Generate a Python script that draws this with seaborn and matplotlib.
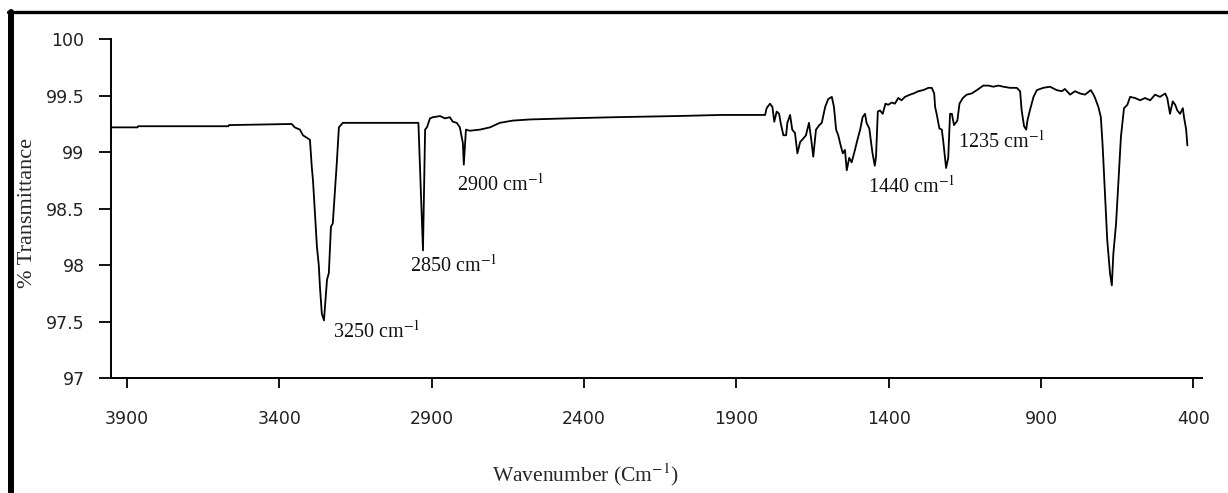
import pandas as pd
import seaborn as sns
import matplotlib.pyplot as plt
from matplotlib.lines import Line2D
from matplotlib.ticker import FuncFormatter

# values
wavenumber = [3953, 3866, 3864, 3568, 3566, 3360, 3350, 3333, 3323, 3300,
              3294, 3290, 3277, 3271, 3267, 3261, 3254, 3248, 3244, 3238,
              3231, 3225, 3212, 3205, 3192, 2944, 2929, 2922, 2916, 2906,
              2896, 2873, 2857, 2841, 2831, 2818, 2808, 2798, 2795, 2788,
              2775, 2742, 2709, 2677, 2634, 2578, 2450, 2300, 2100, 1950,
              1806, 1801, 1790, 1782, 1776, 1768, 1760, 1755, 1746, 1737,
              1733, 1724, 1717, 1708, 1700, 1691, 1681, 1672, 1662, 1655,
              1648, 1639, 1628, 1620, 1609, 1599, 1587, 1580, 1573, 1566,
              1558, 1551, 1544, 1538, 1530, 1522, 1513, 1503, 1494, 1486,
              1478, 1473, 1464, 1454, 1446, 1442, 1436, 1429, 1420, 1411,
              1402, 1390, 1380, 1369, 1358, 1347, 1330, 1319, 1303, 1287,
              1270, 1259, 1251, 1248, 1243, 1234, 1226, 1221, 1212, 1205,
              1199, 1193, 1186, 1175, 1168, 1157, 1144, 1128, 1111, 1090,
              1073, 1057, 1040, 1024, 1002, 980, 969, 964, 956, 949,
              945, 937, 925, 914, 893, 871, 849, 832, 822, 805,
              789, 772, 756, 737, 728, 723, 712, 704, 698, 690,
              683, 674, 668, 663, 654, 646, 638, 628, 617, 608,
              592, 575, 559, 542, 526, 510, 493, 486, 477, 468,
              460, 453, 444, 435, 431, 424, 420]
transmittance = [99.22, 99.22, 99.23, 99.23, 99.24, 99.25, 99.22, 99.20, 99.15, 99.11,
                 98.87, 98.75, 98.16, 98.00, 97.80, 97.57, 97.51, 97.72, 97.87, 97.93,
                 98.34, 98.37, 98.90, 99.22, 99.26, 99.26, 98.13, 99.20, 99.22, 99.30,
                 99.31, 99.32, 99.30, 99.31, 99.27, 99.26, 99.22, 99.08, 98.89, 99.20,
                 99.19, 99.20, 99.22, 99.26, 99.28, 99.29, 99.30, 99.31, 99.32, 99.33,
                 99.33, 99.39, 99.43, 99.40, 99.27, 99.36, 99.34, 99.26, 99.15, 99.15,
                 99.26, 99.33, 99.20, 99.17, 98.99, 99.09, 99.12, 99.15, 99.26, 99.12,
                 98.96, 99.20, 99.24, 99.26, 99.40, 99.47, 99.49, 99.40, 99.20, 99.15,
                 99.06, 98.99, 99.02, 98.84, 98.95, 98.91, 99.00, 99.11, 99.20, 99.31,
                 99.34, 99.26, 99.21, 99.00, 98.88, 98.96, 99.36, 99.37, 99.34, 99.43,
                 99.42, 99.44, 99.43, 99.48, 99.46, 99.49, 99.51, 99.52, 99.54, 99.55,
                 99.57, 99.57, 99.52, 99.40, 99.34, 99.21, 99.20, 99.09, 98.86, 98.95,
                 99.34, 99.34, 99.24, 99.28, 99.43, 99.48, 99.51, 99.52, 99.55, 99.59,
                 99.59, 99.58, 99.59, 99.58, 99.57, 99.57, 99.54, 99.37, 99.23, 99.20,
                 99.28, 99.37, 99.49, 99.55, 99.57, 99.58, 99.55, 99.54, 99.56, 99.51,
                 99.54, 99.52, 99.51, 99.55, 99.51, 99.48, 99.40, 99.31, 99.05, 98.60,
                 98.22, 97.93, 97.82, 98.10, 98.37, 98.75, 99.14, 99.39, 99.42, 99.49,
                 99.48, 99.46, 99.48, 99.46, 99.51, 99.49, 99.52, 99.48, 99.34, 99.45,
                 99.42, 99.37, 99.34, 99.39, 99.31, 99.20, 99.06]

# peak labels as written on the chart
peak_labels = ['3250', '2850', '2900', '1440', '1235']
label_x = [3224, 2972, 2818, 1468, 1173]
label_y = [97.36, 97.94, 98.66, 98.64, 99.04]

x_ticks = [3900, 3400, 2900, 2400, 1900, 1400, 900, 400]
y_ticks = [97, 97.5, 98, 98.5, 99, 99.5, 100]

sns.set_style('ticks')
plt.rcParams['font.family'] = ['DejaVu Sans']
plt.rcParams['mathtext.fontset'] = 'stix'

df = pd.DataFrame({'wn': wavenumber, 't': transmittance})

fig = plt.figure(figsize=(12.28, 4.93), dpi=100)
ax = fig.add_axes([111 / 1228, 1 - 378 / 493, 1091 / 1228, 338.7 / 493])

sns.lineplot(data=df, x='wn', y='t', ax=ax, color='black', linewidth=1.3,
             estimator=None, sort=False)

ax.set_xlim(3953, 372)
ax.set_ylim(97, 100)
ax.set_xticks(x_ticks)
ax.set_yticks(y_ticks)
ax.yaxis.set_major_formatter(FuncFormatter(lambda v, p: '%g' % v))
ax.tick_params(axis='x', length=7, width=1.3, pad=16, labelsize=12.5,
               colors='black', labelcolor='#222222')
ax.tick_params(axis='y', length=9, width=1.3, pad=10, labelsize=12.5,
               colors='black', labelcolor='#222222')
sns.despine(ax=ax)
for side in ['left', 'bottom']:
    ax.spines[side].set_linewidth(1.4)
    ax.spines[side].set_color('black')

serif = ['Liberation Serif', 'DejaVu Serif']
ax.set_xlabel('Wavenumber (Cm$^{-1}$)', family=serif, fontsize=15.5)
ax.set_ylabel('% Transmittance', family=serif, fontsize=16)
ax.xaxis.set_label_coords((585 - 111) / 1091, -0.245)
ax.yaxis.set_label_coords(-0.068, 0.487)

for name, lx, ly in zip(peak_labels, label_x, label_y):
    ax.text(lx, ly, name + ' cm$^{-1}$', family=serif, fontsize=14.5,
            ha='left', va='baseline', color='#111111')

# thick picture frame on the left and top
fig.add_artist(Line2D([11 / 1228, 11 / 1228], [-0.05, 1 - 11.5 / 493],
                      transform=fig.transFigure, color='black', linewidth=4.3))
fig.add_artist(Line2D([8 / 1228, 1.05], [1 - 11.5 / 493, 1 - 11.5 / 493],
                      transform=fig.transFigure, color='black', linewidth=2.4))

fig.savefig('out.png', dpi=100)
